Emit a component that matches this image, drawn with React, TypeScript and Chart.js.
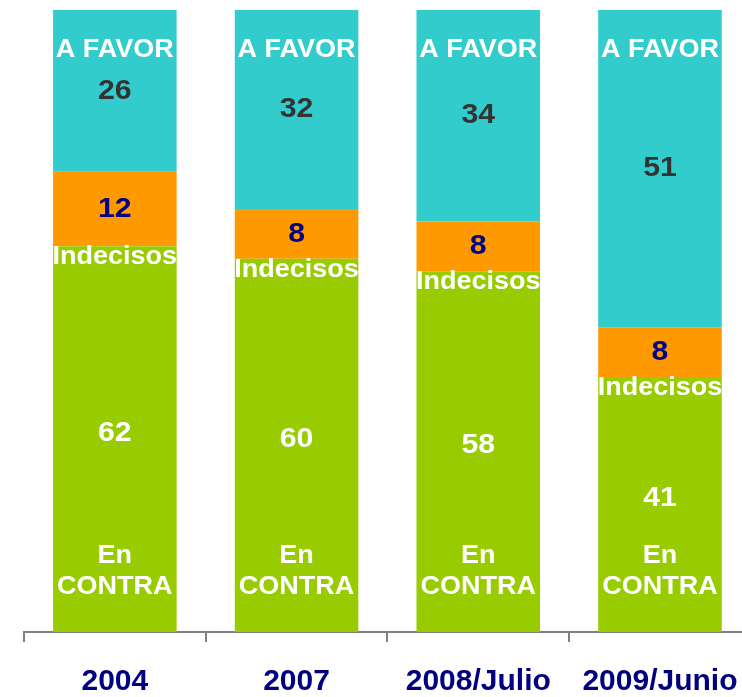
import React, { useEffect, useRef } from "react";
import { Chart, registerables } from "chart.js";
Chart.register(...registerables);

const categories = ["2004", "2007", "2008/Julio", "2009/Junio"];
const enContra = [62, 60, 58, 41];
const indecisos = [12, 8, 8, 8];
const aFavor = [26, 32, 34, 51];

const FONT = '"Liberation Sans", Arial, Helvetica, sans-serif';

const labelPlugin = {
  id: "barLabels",
  afterDatasetsDraw(chart: any) {
    const ctx = chart.ctx;
    const put = (t: string, x: number, y: number, size: number, color: string) => {
      ctx.save();
      ctx.textAlign = "center";
      ctx.textBaseline = "middle";
      ctx.font = `bold ${size}px ${FONT}`;
      ctx.fillStyle = color;
      ctx.translate(x, y);
      ctx.scale(1.08, 1);
      ctx.fillText(t, 0, 0);
      ctx.restore();
    };
    const mGreen = chart.getDatasetMeta(0);
    const mOrange = chart.getDatasetMeta(1);
    const mCyan = chart.getDatasetMeta(2);
    categories.forEach((_, i) => {
      const g = mGreen.data[i];
      const o = mOrange.data[i];
      const c = mCyan.data[i];
      const x = g.x;
      put("A FAVOR", x, c.y + 40, 25, "#ffffff");
      put(String(aFavor[i]), x, (c.y + c.base) / 2, 28, "#333333");
      put(String(indecisos[i]), x, (o.y + o.base) / 2, 28, "#000080");
      put("Indecisos", x, o.base + 11, 25, "#ffffff");
      put(String(enContra[i]), x, (g.y + g.base) / 2 - 6, 28, "#ffffff");
      put("En", x, g.base - 76, 25, "#ffffff");
      put("CONTRA", x, g.base - 45, 25, "#ffffff");
    });
  },
};

export default function App() {
  const ref = useRef<HTMLCanvasElement>(null);
  useEffect(() => {
    if (!ref.current) return;
    const chart = new Chart(ref.current, {
      type: "bar",
      data: {
        labels: categories,
        datasets: [
          { label: "En CONTRA", data: enContra, backgroundColor: "#99CC00" },
          { label: "Indecisos", data: indecisos, backgroundColor: "#FF9900" },
          { label: "A FAVOR", data: aFavor, backgroundColor: "#33CCCC" },
        ],
      },
      options: {
        responsive: false,
        animation: false,
        layout: { padding: { left: 24, right: 4, top: 10, bottom: 0 } },
        plugins: { legend: { display: false }, tooltip: { enabled: false } },
        datasets: { bar: { categoryPercentage: 1, barPercentage: 0.68 } } as any,
        scales: {
          x: {
            stacked: true,
            afterFit: (s: any) => {
              s.height = 65;
            },
            grid: {
              offset: true,
              drawOnChartArea: false,
              drawTicks: true,
              tickLength: 10,
              color: "#808080",
              lineWidth: 2,
            },
            border: { display: true, color: "#808080", width: 2 },
            ticks: {
              color: "#000080",
              padding: 22,
              font: { family: FONT, size: 30, weight: "bold" },
              maxRotation: 0,
              autoSkip: false,
            },
          },
          y: { stacked: true, min: 0, max: 100, display: false },
        },
      },
      plugins: [labelPlugin],
    });
    return () => chart.destroy();
  }, []);
  return (
    <div
      style={{
        position: "fixed",
        left: 0,
        top: 0,
        width: 742,
        height: 697,
        overflow: "hidden",
        background: "#fff",
      }}
    >
      <canvas ref={ref} width={760} height={697} style={{ display: "block", width: 760, height: 697 }} />
    </div>
  );
}
